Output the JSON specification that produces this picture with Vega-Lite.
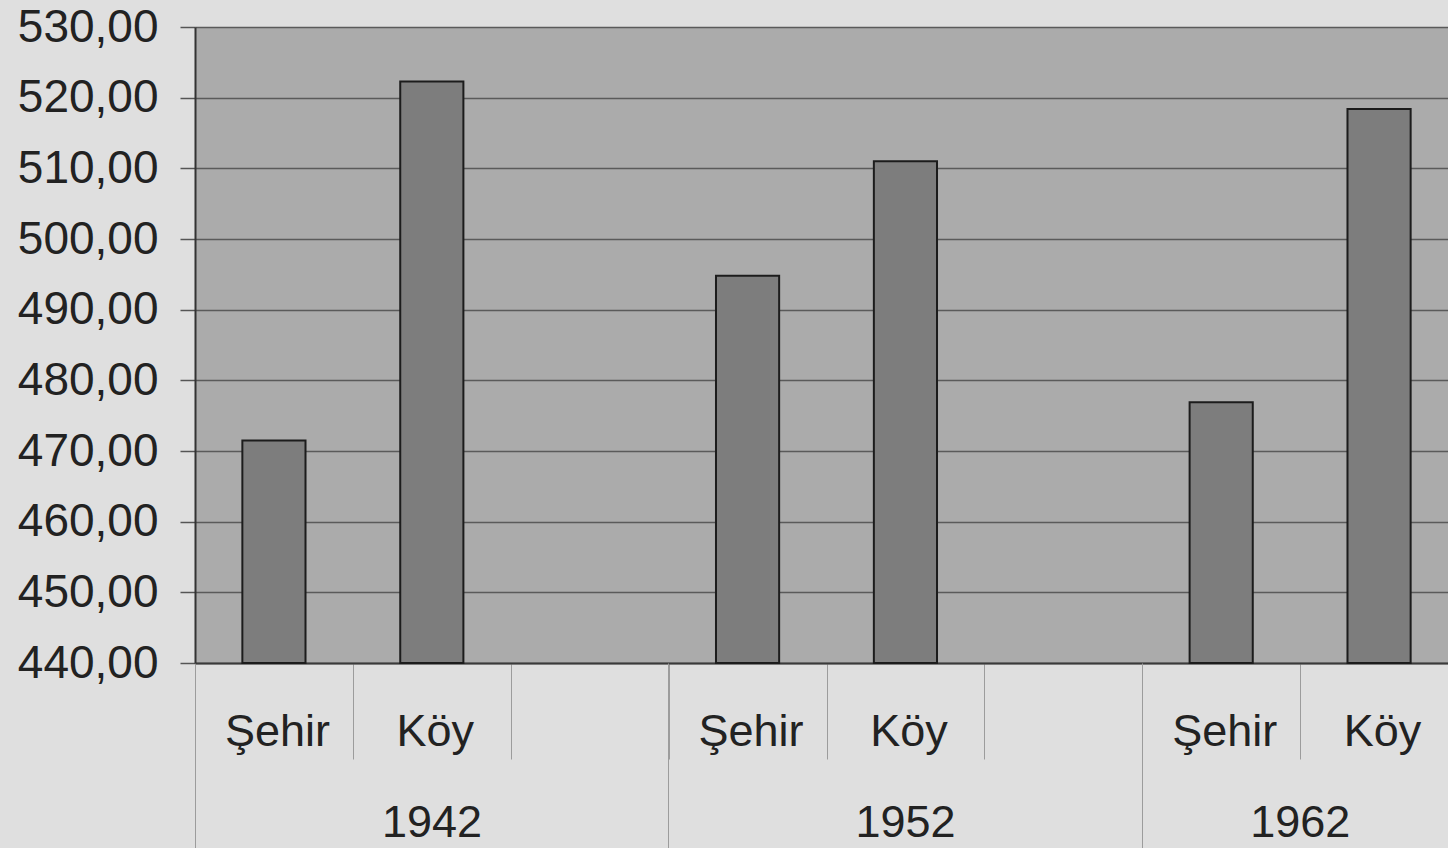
{
  "$schema": "https://vega.github.io/schema/vega-lite/v6.json",
  "autosize": {"type": "none"},
  "width": 1253,
  "height": 636,
  "padding": {"left": 195, "top": 27, "right": 0, "bottom": 185},
  "background": "#dfdfdf",
  "config": {"font": "Liberation Sans", "view": {"fill": "#ababab", "stroke": null}},
  "data": {"values": [
    {"yil": "1942", "yer": "Şehir", "kategori": "1942|Şehir", "deger": 471.5},
    {"yil": "1942", "yer": "Köy", "kategori": "1942|Köy", "deger": 522.3},
    {"yil": "1952", "yer": "Şehir", "kategori": "1952|Şehir", "deger": 494.8},
    {"yil": "1952", "yer": "Köy", "kategori": "1952|Köy", "deger": 511.0},
    {"yil": "1962", "yer": "Şehir", "kategori": "1962|Şehir", "deger": 476.9},
    {"yil": "1962", "yer": "Köy", "kategori": "1962|Köy", "deger": 518.4}
  ]},
  "layer": [
    {
      "mark": {"type": "bar", "width": {"band": 0.4}, "fill": "#7d7d7d", "stroke": "#1c1c1c", "strokeWidth": 2},
      "encoding": {
        "x": {
          "field": "kategori", "type": "nominal",
          "scale": {"domain": ["1942|Şehir", "1942|Köy", "1942|", "1952|Şehir", "1952|Köy", "1952|", "1962|Şehir", "1962|Köy"], "range": [0, 1263], "paddingInner": 0, "paddingOuter": 0},
          "axis": {"orient": "bottom", "labelExpr": "split(datum.value, '|')[1]", "tickBand": "extent", "tickSize": 96, "tickColor": "#9c9c9c", "tickWidth": 1, "domain": true, "domainColor": "#3a3a3a", "domainWidth": 2, "labelFontSize": 45, "labelColor": "#222222", "labelBaseline": "alphabetic", "labelPadding": -14, "labelOffset": 3, "labelAngle": 0, "labelOverlap": false, "labelBound": false, "labelFlush": false, "grid": false, "title": null}
        },
        "y": {
          "field": "deger", "type": "quantitative",
          "scale": {"domain": [440, 530], "nice": false, "zero": false},
          "axis": {"values": [440, 450, 460, 470, 480, 490, 500, 510, 520, 530], "labelExpr": "replace(format(datum.value, '.2f'), '.', ',')", "labelFontSize": 46, "labelColor": "#222222", "tickSize": 15, "tickColor": "#555555", "tickWidth": 1.5, "labelPadding": 22, "grid": true, "gridColor": "#5a5a5a", "gridWidth": 1.5, "domain": true, "domainColor": "#333333", "domainWidth": 2, "title": null, "labelOverlap": false, "labelBound": false, "labelFlush": false}
        },
        "y2": {"datum": 440}
      }
    },
    {
      "mark": {"type": "bar", "opacity": 0, "width": {"band": 0.4}},
      "encoding": {
        "x": {
          "field": "kategori", "type": "nominal",
          "axis": {"orient": "bottom", "values": ["1942|Şehir", "1952|Şehir", "1962|Şehir"], "bandPosition": 0, "labelExpr": "split(datum.value, '|')[0]", "labelOffset": {"condition": {"test": "datum.value === '1962|Şehir'", "value": 79}, "value": 158}, "tickSize": 185, "tickColor": "#9c9c9c", "tickWidth": 1, "domain": false, "labelFontSize": 45, "labelColor": "#222222", "labelBaseline": "alphabetic", "labelPadding": -12, "labelAngle": 0, "labelOverlap": false, "labelBound": false, "labelFlush": false, "grid": false, "title": null}
        },
        "y": {"field": "deger", "type": "quantitative"},
        "y2": {"datum": 440}
      }
    }
  ],
  "resolve": {"axis": {"x": "independent"}}
}
